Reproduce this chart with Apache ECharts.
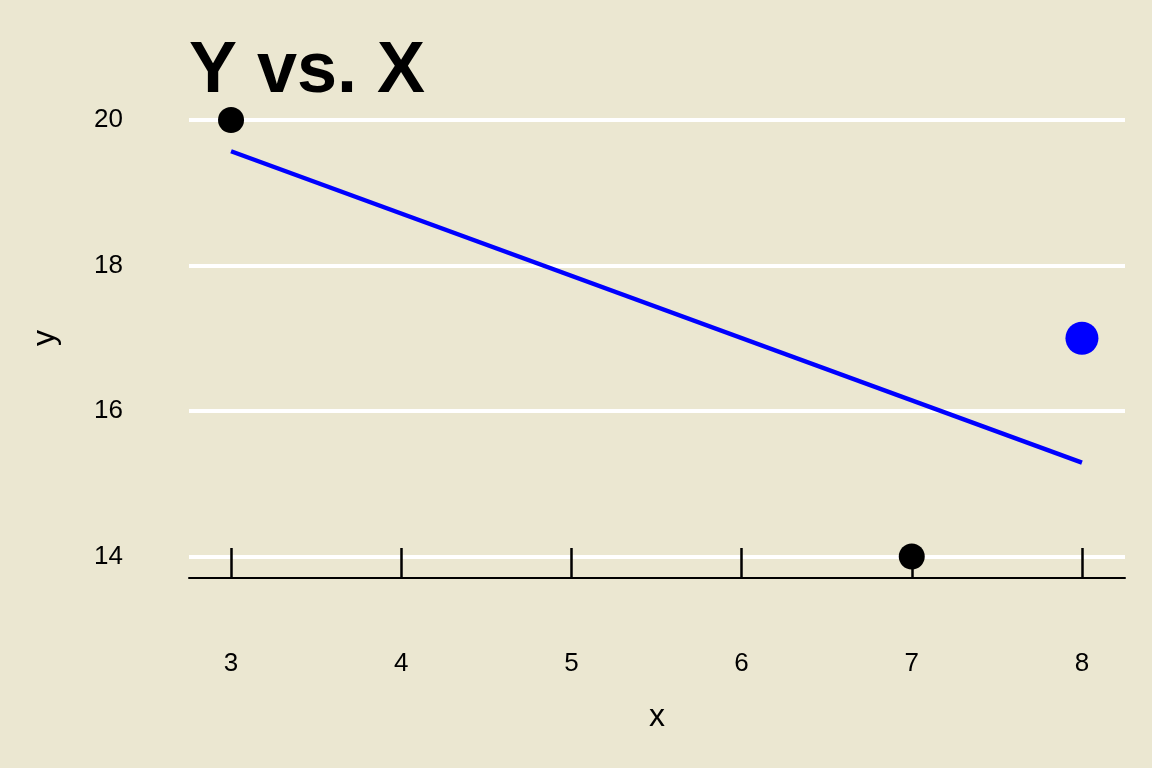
<!DOCTYPE html>
<html>
<head>
<meta charset="utf-8">
<script src="https://cdn.jsdelivr.net/npm/echarts@6/dist/echarts.min.js"></script>
<style>
  html, body { margin: 0; padding: 0; background: #EBE7D1; }
  #chart { width: 1152px; height: 768px; }
</style>
</head>
<body>
<div id="chart"></div>
<script>
// data
var points = [[3, 20], [7, 14]];
var highlight = [[8, 17]];
var fitLine = [[3, 19.57], [8, 15.29]];
var xTicks = [3, 4, 5, 6, 7, 8];
var yTicks = [14, 16, 18, 20];

var chart = echarts.init(document.getElementById('chart'));
chart.setOption({
  backgroundColor: '#EBE7D1',
  animation: false,
  textStyle: { fontFamily: 'Liberation Sans' },
  title: {
    text: 'Y vs. X',
    left: 184,
    top: 31,
    textStyle: { fontSize: 72, fontWeight: 'bold', color: '#000', fontFamily: 'Liberation Sans' }
  },
  grid: { left: 189, right: 27, top: 98, bottom: 190 },
  xAxis: {
    type: 'value',
    min: 2.753,
    max: 8.253,
    name: 'x',
    nameLocation: 'middle',
    nameGap: 123,
    nameTextStyle: { fontSize: 32, color: '#000' },
    axisLine: { show: true, lineStyle: { color: '#000', width: 2 } },
    axisTick: { show: true, inside: true, length: 30, customValues: xTicks, lineStyle: { color: '#000', width: 2.5 } },
    axisLabel: { customValues: xTicks, margin: 73, fontSize: 26, color: '#000' },
    splitLine: { show: false }
  },
  yAxis: {
    type: 'value',
    min: 13.705,
    max: 20.302,
    name: 'y',
    nameLocation: 'middle',
    nameGap: 128,
    nameTextStyle: { fontSize: 32, color: '#000' },
    axisLine: { show: false },
    axisTick: { show: false, customValues: yTicks },
    axisLabel: { customValues: yTicks, margin: 66, fontSize: 26, color: '#000', padding: [5, 0, 0, 0] },
    splitLine: { show: true, lineStyle: { color: '#fff', width: 4 } }
  },
  series: [
    {
      type: 'line',
      data: fitLine,
      symbol: 'none',
      lineStyle: { color: '#0000FF', width: 4.5 },
      z: 2
    },
    {
      type: 'scatter',
      data: points,
      symbolSize: 26,
      itemStyle: { color: '#000', opacity: 1 },
      z: 3
    },
    {
      type: 'scatter',
      data: highlight,
      symbolSize: 33,
      itemStyle: { color: '#0000FF', opacity: 1 },
      z: 3
    }
  ]
});
</script>
</body>
</html>
